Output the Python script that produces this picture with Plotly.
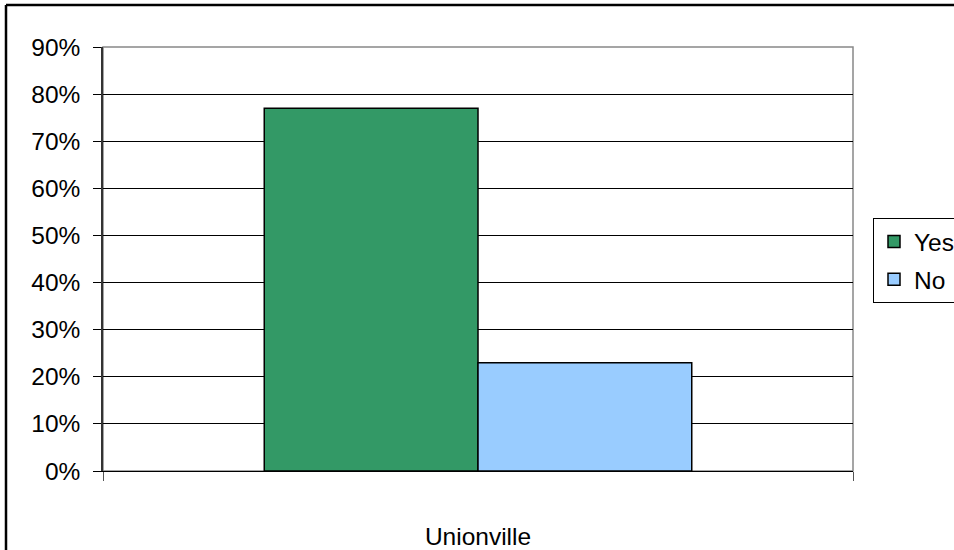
import plotly.graph_objects as go

categories = ["Unionville"]
series_names = ["Yes", "No"]
yes_values = [0.77]
no_values = [0.23]
colors = ["#339966", "#99CCFF"]
tick_vals = [0, 0.1, 0.2, 0.3, 0.4, 0.5, 0.6, 0.7, 0.8, 0.9]

fig = go.Figure()
for name, vals, col in zip(series_names, [yes_values, no_values], colors):
    fig.add_trace(go.Bar(x=categories, y=vals, name=name, legendgroup=name,
                         marker=dict(color=col, line=dict(color="black", width=1.5))))

L, R, T, B = 103, 853, 47, 471
W, H = R - L, B - T
def px(xp): return (xp - L) / W
def py(yp): return (B - yp) / H

FONT = 24.5

fig.update_layout(
    width=954, height=550,
    margin=dict(l=L, r=954 - R, t=T, b=550 - B, autoexpand=False),
    paper_bgcolor="white", plot_bgcolor="white",
    barmode="group", bargap=0.43, bargroupgap=0,
    font=dict(family="Liberation Sans, Arial, sans-serif", size=FONT, color="black"),
    showlegend=True,
    legend=dict(x=px(873), y=py(218), xanchor="left", yanchor="top",
                bordercolor="black", borderwidth=1, bgcolor="white",
                font=dict(size=FONT), tracegroupgap=3, itemwidth=30),
    xaxis=dict(range=[-0.5, 0.5], tickson="boundaries", ticks="outside", ticklen=9,
               tickcolor="#555", showline=True, linecolor="black", linewidth=1,
               showgrid=False, tickfont=dict(size=FONT), ticklabelstandoff=44,
               fixedrange=True),
    yaxis=dict(range=[0, 0.9], tickvals=tick_vals, tickformat=".0%", ticks="outside",
               ticklen=8, tickcolor="black", showline=True, linecolor="#333", linewidth=1.5,
               showgrid=True, gridcolor="black", gridwidth=1, tickfont=dict(size=FONT),
               ticklabelstandoff=8, zeroline=False),
    shapes=[
        dict(type="rect", xref="paper", yref="paper", x0=0, x1=1, y0=0, y1=1,
             line=dict(color="#888", width=1.5), layer="below"),
        dict(type="line", xref="paper", yref="paper", x0=px(6), x1=px(6), y0=py(5), y1=py(560),
             line=dict(color="black", width=2.5)),
        dict(type="line", xref="paper", yref="paper", x0=px(6), x1=px(960), y0=py(5), y1=py(5),
             line=dict(color="black", width=2.5)),
    ],
)
fig.write_html("out.html")
